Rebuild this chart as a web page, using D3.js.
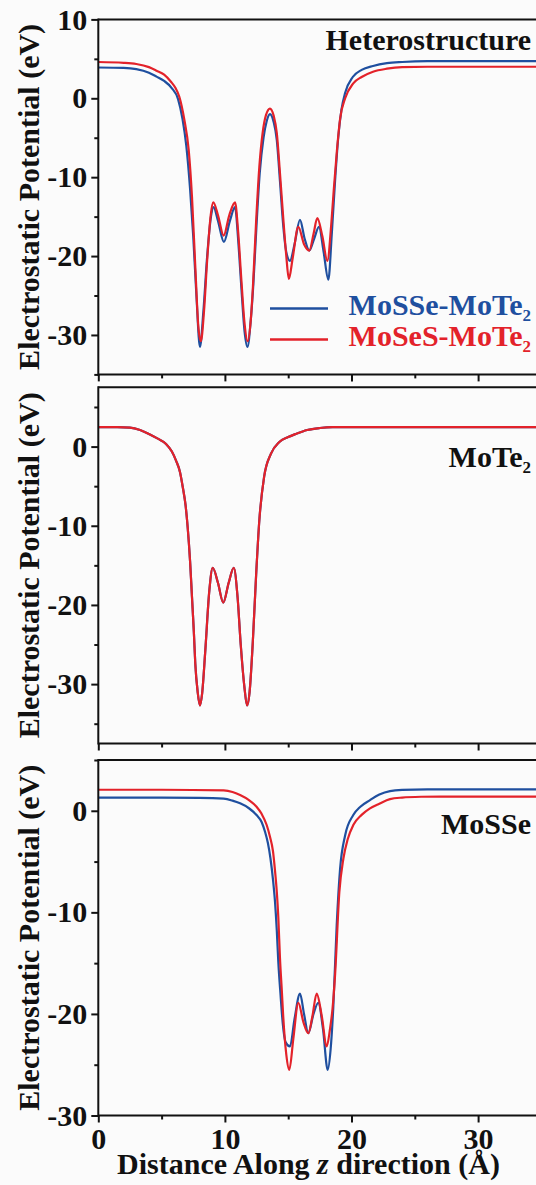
<!DOCTYPE html>
<html>
<head>
<meta charset="utf-8">
<script src="https://cdn.jsdelivr.net/npm/d3@7"></script>
<style>
    body { margin: 0; background: #fbfbfb; }
    svg { display: block; font-family: "Liberation Serif", "Times New Roman", serif; font-weight: bold; }
</style>
</head>
<body>
<div id="chartContainer"></div>
<script>
const SVG_WIDTH = 536;
const SVG_HEIGHT = 1185;
const X_LEFT = 98.3;
const PX_PER_ANGSTROM = 12.66;
const BLUE = "#1f4f9f";
const RED = "#e3222a";
const AXIS_COLOR = "#111";

// x axis (Angstrom)
const X_MAJOR_TICKS = [0, 10, 20, 30];
const X_MINOR_TICKS = [5, 15, 25, 35];

// Heterostructure panel
const heteroBlueZ = [0, 2, 3, 4, 4.6, 5.2, 5.8, 6.3, 6.65, 6.95, 7.25, 7.5, 7.75, 8.03, 8.3, 8.6, 8.9, 9.1, 9.45, 9.92,
    10.4, 10.8, 11.05, 11.3, 11.55, 11.78, 12.05, 12.25, 12.5, 12.75, 13.05, 13.3, 13.56, 13.85, 14.1, 14.35, 14.6, 14.85, 15.14, 15.5,
    15.93, 16.3, 16.67, 17.05, 17.43, 17.8, 18.17, 18.45, 18.7, 18.95, 19.2, 19.5, 20.1, 20.8, 21.7, 22.8, 24, 26, 30, 36];
const heteroBlueV = [3.9, 3.85, 3.7, 3.25, 2.75, 2.2, 1.3, -0.1, -2.6, -6.0, -11.5, -17.5, -25, -31.5, -27, -20, -15, -13.8, -15.5, -18.2,
    -15.5, -13.8, -18, -24, -29.5, -31.5, -28, -23.5, -16, -9.5, -5, -2.9, -2.0, -3.0, -5.3, -10.5, -16, -19.5, -20.6, -18.5,
    -15.4, -17.8, -19.3, -17.8, -16.3, -19.5, -23, -17, -10.5, -5, -1.5, 0.7, 2.7, 3.6, 4.1, 4.45, 4.6, 4.7, 4.7, 4.7];
const heteroRedZ = [0, 2, 3, 4, 4.6, 5.2, 5.74, 6.1, 6.4, 6.8, 7.14, 7.4, 7.66, 7.9, 8.1, 8.35, 8.6, 8.88, 9.08, 9.45,
    9.9, 10.35, 10.8, 11.05, 11.3, 11.55, 11.8, 12.05, 12.2, 12.46, 12.72, 12.98, 13.25, 13.56, 13.85, 14.1, 14.35, 14.6, 14.85, 15.05,
    15.35, 15.8, 16.25, 16.67, 17.0, 17.3, 17.7, 18.09, 18.4, 18.6, 18.85, 19.1, 19.5, 20.14, 20.8, 21.7, 22.8, 24, 26, 36];
const heteroRedV = [4.6, 4.5, 4.35, 3.95, 3.5, 3.0, 2.1, 1.3, 0.2, -2.75, -6.55, -12.5, -21.3, -28.9, -30.8, -27, -20.5, -14.8, -13.2, -14.8,
    -17.4, -14.8, -13.2, -17, -23, -28.5, -30.8, -28, -24.3, -15.8, -8.7, -4.4, -2.1, -1.3, -2.2, -4.4, -9.5, -15, -20, -22.9,
    -20.3, -16.3, -18.5, -19.3, -17.2, -15.2, -17.5, -20.6, -16, -11.6, -6.6, -2.6, 0, 1.9, 2.7, 3.37, 3.75, 3.95, 4.0, 4.0];

// MoTe2 panel (both series coincide)
const moTe2Z = [0, 1.5, 2.5, 3.3, 4.0, 4.7, 5.35, 5.8, 6.14, 6.45, 6.67, 6.9, 7.06, 7.25, 7.4, 7.55, 7.66, 7.85, 8.03, 8.2,
    8.45, 8.77, 9.04, 9.45, 9.87, 10.3, 10.7, 11.0, 11.25, 11.55, 11.75, 11.95, 12.2, 12.46, 12.72, 13.1, 13.64, 14.3, 15.0, 15.6,
    16.5, 17.5, 18.5, 20, 36];
const moTe2V = [2.45, 2.45, 2.4, 2.1, 1.6, 1.0, 0.34, -0.6, -1.77, -3.2, -5.1, -7.5, -10.2, -14.5, -19.0, -23.5, -27.4, -31, -32.7, -31.2,
    -25.8, -18.2, -15.3, -17.2, -19.7, -17.2, -15.3, -19, -25, -30.5, -32.7, -31, -24.8, -16.4, -9.3, -3.8, -0.9, 0.58, 1.2, 1.6,
    2.1, 2.35, 2.45, 2.45, 2.45];

// MoSSe panel
const mosseBlueZ = [0, 5, 8, 9.9, 10.6, 11.2, 11.9, 12.5, 12.9, 13.17, 13.4, 13.6, 13.8, 13.96, 14.1, 14.22, 14.4, 14.56, 14.8, 15.14,
    15.5, 15.93, 16.25, 16.59, 17.0, 17.38, 17.75, 18.12, 18.35, 18.56, 18.83, 19.1, 19.5, 20.14, 20.7, 21.46, 22.2, 23.04, 24, 26, 36];
const mosseBlueV = [1.3, 1.3, 1.28, 1.2, 1.0, 0.73, 0.25, -0.42, -1.1, -2.07, -3.2, -4.7, -6.8, -9.0, -11.8, -14.9, -18.2, -20.8, -22.8, -23.2,
    -20.5, -18.0, -20.0, -21.9, -20.0, -18.9, -21.5, -25.5, -23.5, -19.4, -11.3, -5.7, -2.4, -0.42, 0.4, 1.05, 1.6, 1.94, 2.05, 2.1, 2.1];
const mosseRedZ = [0, 5, 9.9, 10.6, 11.2, 11.9, 12.5, 12.9, 13.3, 13.55, 13.8, 13.95, 14.1, 14.22, 14.35, 14.5, 14.6, 14.85, 15.09, 15.4,
    15.8, 16.2, 16.59, 16.9, 17.25, 17.65, 18.04, 18.3, 18.5, 18.7, 19.04, 19.36, 19.7, 20.14, 20.8, 21.46, 22.2, 23.04, 24, 25.5, 27, 36];
const mosseRedV = [2.07, 2.07, 2.0, 1.85, 1.55, 1.05, 0.4, -0.3, -1.4, -2.5, -4.0, -5.8, -8.0, -10.5, -14.5, -17.8, -20.1, -24, -25.5, -22.5,
    -18.9, -20.8, -21.9, -20.3, -18.0, -20.2, -23.2, -21.5, -19.5, -16.2, -8.0, -4.7, -2.8, -1.4, -0.4, 0.24, 0.7, 1.15, 1.3, 1.38, 1.4, 1.4];

const legendNames = ["MoSSe-MoTe", "MoSeS-MoTe"];

const panels = [
    { top: 19.4, bottom: 374.4, yDomain: [-35, 10], yMajor: [10, 0, -10, -20, -30], yMinor: [5, -5, -15, -25, -35],
      title: "Heterostructure", sub: "", titleY: 50,
      series: [{ z: heteroBlueZ, v: heteroBlueV, color: BLUE }, { z: heteroRedZ, v: heteroRedV, color: RED }] },
    { top: 387.2, bottom: 743.5, yDomain: [-37.5, 7.5], yMajor: [0, -10, -20, -30], yMinor: [5, -5, -15, -25, -35],
      title: "MoTe", sub: "2", titleY: 467,
      series: [{ z: moTe2Z, v: moTe2V, color: BLUE }, { z: moTe2Z, v: moTe2V, color: RED }] },
    { top: 760, bottom: 1115.5, yDomain: [-30, 5], yMajor: [0, -10, -20, -30], yMinor: [5, -5, -15, -25],
      title: "MoSSe", sub: "", titleY: 834,
      series: [{ z: mosseBlueZ, v: mosseBlueV, color: BLUE }, { z: mosseRedZ, v: mosseRedV, color: RED }] }
];

let svg = d3.select("#chartContainer").append("svg")
    .attr("width", SVG_WIDTH)
    .attr("height", SVG_HEIGHT);

svg.append("rect").attr("width", SVG_WIDTH).attr("height", SVG_HEIGHT).attr("fill", "#fbfbfb");

let xScale = d3.scaleLinear().domain([0, 35]).range([X_LEFT, X_LEFT + 35 * PX_PER_ANGSTROM]);

const styleAxis = (g) => {
    g.select(".domain").remove();
    g.selectAll(".tick line").attr("stroke", AXIS_COLOR).attr("stroke-width", 2);
    g.selectAll(".tick text").attr("fill", AXIS_COLOR)
        .style("font-size", "30px").style("font-weight", "bold")
        .style("font-family", "'Liberation Serif', 'Times New Roman', serif");
}

const drawPanel = (panel, i) => {
    let yScale = d3.scaleLinear().domain(panel.yDomain).range([panel.bottom, panel.top]);
    let isLast = i == panels.length - 1;

    svg.append("clipPath").attr("id", "clip" + i)
        .append("rect")
        .attr("x", X_LEFT).attr("y", panel.top)
        .attr("width", SVG_WIDTH - X_LEFT).attr("height", panel.bottom - panel.top);

    let line = d3.line()
        .x(d => xScale(d[0]))
        .y(d => yScale(d[1]))
        .curve(d3.curveMonotoneX);

    panel.series.forEach((s) => {
        svg.append("path")
            .datum(d3.zip(s.z, s.v))
            .attr("clip-path", `url(#clip${i})`)
            .attr("fill", "none")
            .attr("stroke", s.color)
            .attr("stroke-width", 2.2)
            .attr("stroke-linejoin", "round")
            .attr("d", line);
    });

    // y axis ticks
    svg.append("g").attr("transform", `translate(${X_LEFT},0)`)
        .call(d3.axisLeft(yScale).tickValues(panel.yMajor).tickSize(7).tickPadding(4).tickFormat(d => String(d)))
        .call(styleAxis);
    svg.append("g").attr("transform", `translate(${X_LEFT},0)`)
        .call(d3.axisLeft(yScale).tickValues(panel.yMinor).tickSize(4).tickFormat(""))
        .call(styleAxis);

    // x axis ticks, labels only under the last panel
    let xAxis = svg.append("g").attr("transform", `translate(0,${panel.bottom})`)
        .call(d3.axisBottom(xScale).tickValues(X_MAJOR_TICKS).tickSize(7)
            .tickFormat(isLast ? (d => String(d)) : ""))
        .call(styleAxis);
    xAxis.selectAll(".tick text").attr("y", 33.5).attr("dy", 0);
    svg.append("g").attr("transform", `translate(0,${panel.bottom})`)
        .call(d3.axisBottom(xScale).tickValues(X_MINOR_TICKS).tickSize(4).tickFormat(""))
        .call(styleAxis);

    // frame: left, top, bottom (right side falls outside the picture)
    let frame = svg.append("g").attr("stroke", AXIS_COLOR).attr("stroke-width", 2);
    frame.append("line").attr("x1", X_LEFT).attr("x2", X_LEFT).attr("y1", panel.top - 1).attr("y2", panel.bottom + 1);
    frame.append("line").attr("x1", X_LEFT).attr("x2", SVG_WIDTH).attr("y1", panel.top).attr("y2", panel.top);
    frame.append("line").attr("x1", X_LEFT).attr("x2", SVG_WIDTH).attr("y1", panel.bottom).attr("y2", panel.bottom);

    // y axis title
    svg.append("text")
        .attr("transform", `translate(39,${(panel.top + panel.bottom) / 2}) rotate(-90)`)
        .attr("text-anchor", "middle")
        .style("font-size", "30px")
        .attr("fill", AXIS_COLOR)
        .text("Electrostatic Potential (eV)");

    // panel title
    let title = svg.append("text")
        .attr("x", 531).attr("y", panel.titleY)
        .attr("text-anchor", "end")
        .style("font-size", "30px")
        .attr("fill", AXIS_COLOR)
        .text(panel.title);
    if (panel.sub) {
        title.append("tspan").attr("dy", 6).style("font-size", "17px").text(panel.sub);
    }
}

panels.forEach(drawPanel);

// Legend in heterostructure panel
const legendYs = [308.5, 339.5];
[BLUE, RED].forEach((color, i) => {
    svg.append("line")
        .attr("x1", 270).attr("x2", 328)
        .attr("y1", legendYs[i]).attr("y2", legendYs[i])
        .attr("stroke", color).attr("stroke-width", 2.5);
    let t = svg.append("text")
        .attr("x", 531).attr("y", legendYs[i] + 6.5)
        .attr("text-anchor", "end")
        .attr("fill", color)
        .style("font-size", "30px")
        .text(legendNames[i]);
    t.append("tspan").attr("dy", 6).style("font-size", "17px").text("2");
});

// x axis title
let xTitle = svg.append("text")
    .attr("x", 308.5).attr("y", 1174)
    .attr("text-anchor", "middle")
    .attr("fill", AXIS_COLOR)
    .style("font-size", "30px");
xTitle.append("tspan").text("Distance Along ");
xTitle.append("tspan").style("font-style", "italic").text("z");
xTitle.append("tspan").text(" direction (Å)");
</script>
</body>
</html>
